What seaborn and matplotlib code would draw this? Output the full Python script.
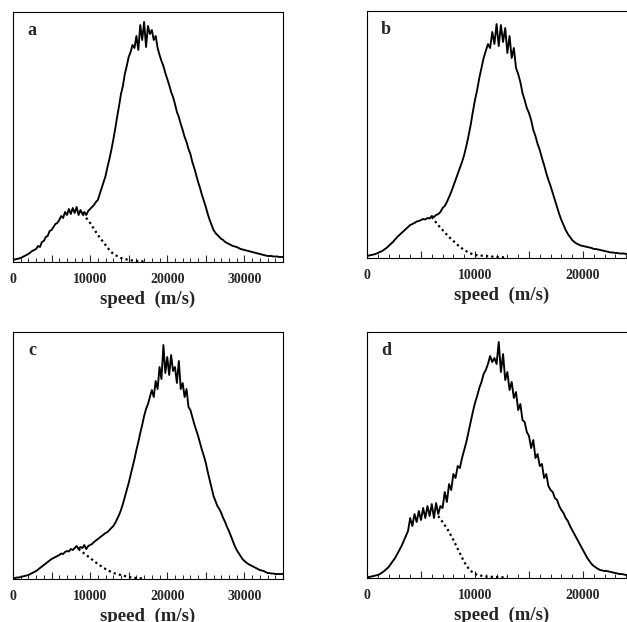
"""Four speed distributions (panels a-d), each with a dotted slow-component fit."""
import matplotlib.pyplot as plt
import numpy as np
import seaborn as sns
from matplotlib.ticker import FuncFormatter, MultipleLocator, NullLocator

# ---- panel a / c : 0..35000 m/s sampled every 250 m/s
SPEED_AC = np.arange(0, 35001, 250)
# ---- panel b / d : 0..25000 m/s sampled every 200 m/s
SPEED_BD = np.arange(0, 25001, 200)

COUNTS_A = [
    2, 2.5, 3, 3.5, 4, 5, 6, 7, 8, 9.5, 11, 12, 13, 16, 15, 20, 21, 25, 26, 31,
    32, 35, 38, 39, 42, 46, 44, 50, 47, 53, 48, 54, 49, 55, 47, 52, 48, 50, 47, 51,
    53, 55, 57, 60, 62, 68, 74, 80, 86, 95, 103, 112, 122, 133, 145, 156, 168, 176, 188, 196,
    205, 210, 217, 214, 226, 212, 237, 222, 240, 215, 236, 228, 232, 222, 226, 214, 207, 201, 196, 189,
    183, 177, 170, 165, 158, 150, 145, 138, 132, 125, 120, 113, 108, 100, 94, 87, 80, 74, 67, 61,
    55, 48, 42, 37, 32, 29, 27, 25, 23, 22, 20, 19, 18, 17, 16, 15.5, 15, 14, 13, 12.5,
    12, 11.5, 11, 10.5, 10, 9.5, 9, 8.5, 8, 7.5, 7, 6.5, 6, 6, 6, 5.5, 5.5, 5.5, 5, 5,
    5,
]
COUNTS_B = [
    2, 2.5, 3, 3.5, 4, 5, 6, 7, 8.5, 10, 12, 14, 16, 18.5, 21, 23, 25, 27, 29, 31, 33, 34, 35, 36.5, 37,
    38, 39, 38.5, 40, 39.5, 42, 41, 43, 44, 46, 50, 52, 56, 61, 66, 72, 78, 84, 90, 96, 103, 112, 122, 133, 146,
    158, 168, 180, 190, 200, 207, 214, 210, 226, 214, 234, 212, 233, 216, 230, 205, 222, 200, 210, 190, 184, 176, 165, 158, 150,
    145, 138, 128, 122, 114, 108, 100, 93, 85, 78, 72, 65, 58, 51, 44, 38, 33, 28, 24, 21, 18, 16, 14.5, 13.5, 12.5,
    12, 11.5, 11, 10.5, 10, 9, 9, 8.5, 8, 7.5, 7, 6.5, 6, 5.5, 5.5, 5, 5, 4.5, 4.5, 4.5, 4, 4, 4, 4, 4,
    4,
]
COUNTS_C = [
    1, 1, 1.5, 1.5, 2, 2.5, 3, 3.5, 4, 5, 6, 7, 8, 9.5, 11, 12.5, 14, 15.5, 17, 18.5,
    20, 21, 22, 23, 24, 25.5, 25, 27, 28, 27.5, 30, 29, 31, 33, 30, 32, 31, 34, 30, 33,
    34, 35, 37, 38.5, 40, 41.5, 43, 44.5, 46, 47, 49, 51, 53, 56, 60, 64, 69, 75, 82, 89,
    96, 104, 112, 120, 129, 137, 146, 154, 163, 170, 175, 182, 189, 182, 198, 190, 212, 200, 234, 206,
    222, 204, 224, 208, 212, 196, 218, 190, 196, 182, 190, 172, 169, 162, 155, 149, 143, 136, 129, 123,
    116, 107, 99, 91, 83, 78, 73, 70, 66, 61, 57, 52, 48, 43, 38, 33, 29, 26, 23, 20,
    18, 16.5, 15, 14, 13, 12, 11, 10, 9, 8.5, 8, 7, 6, 6, 5.5, 5.5, 5, 5, 5, 5,
    5,
]
COUNTS_D = [
    1, 1, 1.5, 2, 2.5, 3, 4, 5.5, 7, 9, 11, 14, 17, 20, 24, 28, 32, 37, 42, 47, 60, 52, 64, 56, 67,
    58, 70, 60, 72, 62, 74, 60, 75, 64, 72, 70, 86, 76, 94, 88, 104, 100, 112, 110, 120, 128, 136, 146, 156, 166,
    175, 182, 190, 196, 204, 208, 214, 222, 216, 220, 214, 236, 206, 224, 198, 206, 188, 196, 180, 186, 168, 174, 158, 156, 146,
    142, 130, 138, 120, 124, 112, 114, 100, 104, 92, 88, 86, 80, 78, 72, 68, 65, 60, 57, 52, 48, 44, 40, 36, 32,
    28, 24, 20, 17, 14, 12, 10.5, 9, 8, 7.5, 7, 7, 6.5, 6, 5.5, 5, 4.5, 4, 4, 3.5, 3, 3, 3, 3, 3,
    3,
]

# dotted slow-component fits (only the part that leaves the data curve)
FIT_A_SPEED = [9000, 9500, 10000, 10500, 11000, 11500, 12000, 12500, 13000, 13500, 14000, 14500, 15000, 16000, 17000]
FIT_A = [48, 44, 39, 33, 27, 22, 17, 12, 8, 6, 4, 3, 2, 1, 0.5]
FIT_B_SPEED = [6000, 6500, 7000, 7500, 8000, 8500, 9000, 9500, 10000, 10500, 11000, 12000, 13000]
FIT_B = [41, 34, 28, 22, 17, 12, 8, 5, 3, 2.5, 2, 1, 0.5]
FIT_C_SPEED = [8500, 9000, 9500, 10000, 10500, 11000, 11500, 12000, 12500, 13000, 13500, 14000, 15000, 16000, 17000]
FIT_C = [30, 27, 24, 21, 18, 15, 12.5, 10, 8, 6, 5, 4, 2, 1, 0.5]
FIT_D_SPEED = [6600, 7000, 7500, 8000, 8500, 9000, 9500, 10000, 10500, 11000, 12000, 13000]
FIT_D = [62, 56, 48, 38, 27, 16, 8, 4, 2.5, 1.5, 1, 0.5]

PANELS = [
    # letter, speeds, counts, fit speeds, fit, xmax, [left, bottom, width, height]
    ("a", SPEED_AC, COUNTS_A, FIT_A_SPEED, FIT_A, 35000, [0.0207, 0.5788, 0.4306, 0.4019]),
    ("b", SPEED_BD, COUNTS_B, FIT_B_SPEED, FIT_B, 25000, [0.5853, 0.5852, 0.4306, 0.3971]),
    ("c", SPEED_AC, COUNTS_C, FIT_C_SPEED, FIT_C, 35000, [0.0207, 0.0691, 0.4306, 0.3971]),
    ("d", SPEED_BD, COUNTS_D, FIT_D_SPEED, FIT_D, 25000, [0.5853, 0.0707, 0.4306, 0.3955]),
]

sns.set_theme(style="ticks")
plt.rcParams["font.family"] = ["Liberation Serif", "DejaVu Serif"]
plt.rcParams["axes.linewidth"] = 0.8

fig = plt.figure(figsize=(6.27, 6.22), dpi=100)
fig.patch.set_facecolor("white")


def _tick_label(v, _pos):
    return f"{int(v)}" if v % 10000 == 0 else ""


for letter, speed, counts, fit_speed, fit, xmax, rect in PANELS:
    ax = fig.add_axes(rect)
    sns.lineplot(x=speed, y=counts, ax=ax, color="black", linewidth=1.35)
    sns.lineplot(x=fit_speed, y=fit, ax=ax, color="black", linewidth=1.6,
                 linestyle=(0, (1, 1.4)))
    ax.set_xlim(0, xmax)
    ax.set_ylim(0, rect[3] * 622)
    ax.xaxis.set_major_locator(MultipleLocator(5000))
    ax.xaxis.set_minor_locator(MultipleLocator(1000))
    ax.xaxis.set_major_formatter(FuncFormatter(_tick_label))
    ax.yaxis.set_major_locator(NullLocator())
    ax.tick_params(axis="x", which="major", direction="in", length=5, width=0.8,
                   pad=8, labelsize=10)
    ax.tick_params(axis="x", which="minor", direction="in", length=3, width=0.7)
    for lbl in ax.get_xticklabels():
        lbl.set_fontweight("bold")
    for side in ("top", "right", "left", "bottom"):
        ax.spines[side].set_visible(True)
        ax.spines[side].set_color("black")
    ax.set_xlabel("speed  (m/s)", fontsize=13.5, fontweight="bold", labelpad=3)
    ax.set_ylabel("")
    ax.text(0.07, 0.925, letter, transform=ax.transAxes, ha="center", va="center",
            fontsize=13, fontweight="bold")

fig.savefig("out.png", dpi=100, facecolor="white")
